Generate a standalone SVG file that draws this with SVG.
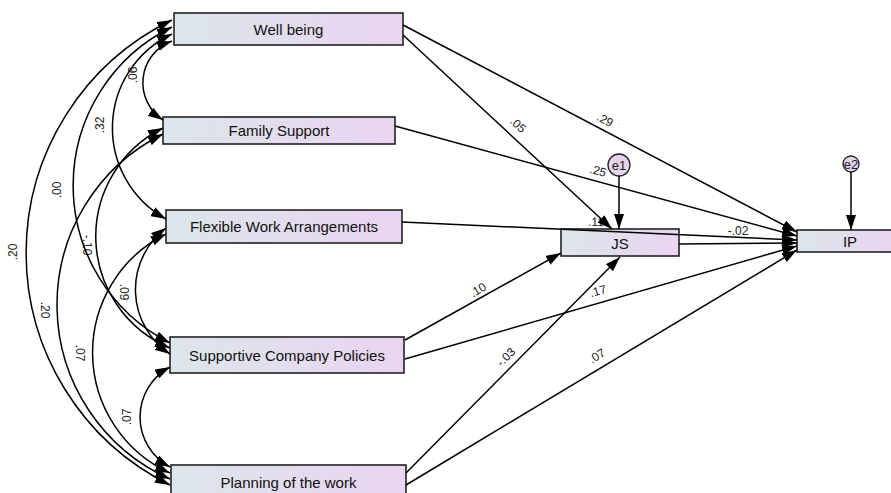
<svg xmlns="http://www.w3.org/2000/svg" width="891" height="493" viewBox="0 0 891 493">
<defs>
<linearGradient id="bg" x1="0" y1="0" x2="1" y2="0">
<stop offset="0" stop-color="#dce6ea"/>
<stop offset="1" stop-color="#ead4f2"/>
</linearGradient>
<marker id="ah" viewBox="0 0 15 10" refX="15" refY="5" markerWidth="15" markerHeight="10" markerUnits="userSpaceOnUse" orient="auto-start-reverse">
<path d="M0,0 L15,5 L0,10 z" fill="#000"/>
</marker>
<style>
.box{fill:url(#bg);stroke:#222;stroke-width:1.6}
.nt{font-family:"Liberation Sans",Arial,sans-serif;font-size:15px;fill:#111;text-anchor:middle;dominant-baseline:central}
.lb{font-family:"Liberation Sans",Arial,sans-serif;font-size:12px;fill:#222;text-anchor:middle;dominant-baseline:central}
.cv{fill:none;stroke:#000;stroke-width:1.5;marker-start:url(#ah);marker-end:url(#ah)}
.pa{fill:none;stroke:#000;stroke-width:1.5;marker-end:url(#ah)}
.err{fill:#e6d3ee;stroke:#222;stroke-width:1.3}
</style>
</defs>
<rect width="891" height="493" fill="#fff"/>

<g id="node-wb"><rect class="box" x="174" y="13" width="229" height="32"/><text class="nt" x="288.5" y="29">Well being</text></g>
<g id="node-fs"><rect class="box" x="163" y="117" width="232" height="27"/><text class="nt" x="279" y="130.5">Family Support</text></g>
<g id="node-fwa"><rect class="box" x="166" y="210" width="236" height="33"/><text class="nt" x="284" y="226.5">Flexible Work Arrangements</text></g>
<g id="node-scp"><rect class="box" x="170" y="337" width="234" height="36"/><text class="nt" x="287" y="355">Supportive Company Policies</text></g>
<g id="node-pw"><rect class="box" x="171" y="465" width="235" height="34"/><text class="nt" x="288.5" y="482">Planning of the work</text></g>
<g id="node-js"><rect class="box" x="561" y="229" width="118" height="27"/><text class="nt" x="620" y="243">JS</text></g>
<g id="node-ip"><rect class="box" x="797" y="230" width="100" height="22"/><text class="nt" x="850" y="241.5">IP</text></g>
<g id="node-e1"><circle class="err" cx="619" cy="165" r="11"/><text class="lb" x="619" y="165" style="font-size:13px">e1</text></g>
<g id="node-e2"><circle class="err" cx="851" cy="164" r="8"/><text class="lb" x="851" y="164" style="font-size:13px">e2</text></g>

<g id="labels">
<text class="lb" transform="translate(133,75) rotate(-90)">.06</text>
<text class="lb" transform="translate(100,125) rotate(-90)">.32</text>
<text class="lb" transform="translate(57,190) rotate(-90)">.00</text>
<text class="lb" transform="translate(13,252) rotate(-90)">.20</text>
<text class="lb" transform="translate(87,245) rotate(90)">-.10</text>
<text class="lb" transform="translate(45,310) rotate(90)">.20</text>
<text class="lb" transform="translate(124,292) rotate(90)">.09</text>
<text class="lb" transform="translate(80,353) rotate(90)">.07</text>
<text class="lb" transform="translate(127,417) rotate(-90)">.07</text>
<text class="lb" transform="translate(518,125) rotate(43)">.05</text>
<text class="lb" transform="translate(605,120) rotate(28)">.29</text>
<text class="lb" transform="translate(598,171) rotate(15)">.25</text>
<text class="lb" transform="translate(596,222) rotate(2)">.11</text>
<text class="lb" transform="translate(738,231)">-.02</text>
<text class="lb" transform="translate(478,290) rotate(-31)">.10</text>
<text class="lb" transform="translate(598,291) rotate(-16)">.17</text>
<text class="lb" transform="translate(506,357) rotate(-45)">-.03</text>
<text class="lb" transform="translate(597,356) rotate(-31)">.07</text>
</g>

<g id="connectors">
<path class="cv" d="M172,41 A44.5,44.5 0 0,0 163,120"/>
<path class="cv" d="M172,34 A104,104 0 0,0 166,219"/>
<path class="cv" d="M172,27 A176.5,176.5 0 0,0 170,343"/>
<path class="cv" d="M172,20 A259,259 0 0,0 170,485"/>
<path class="cv" d="M163,128 A121,121 0 0,0 170,348"/>
<path class="cv" d="M163,134 A190.7,190.7 0 0,0 170,479"/>
<path class="cv" d="M166,228 A77.3,77.3 0 0,0 170,354"/>
<path class="cv" d="M166,234 A132.4,132.4 0 0,0 170,473"/>
<path class="cv" d="M170,367 A56.7,56.7 0 0,0 170,467"/>
<path class="pa" d="M403,35 L612,229"/>
<path class="pa" d="M403,25 L797,232"/>
<path class="pa" d="M395,126 L797,236"/>
<path class="pa" d="M402,222 L797,240"/>
<path class="pa" d="M679,244 L797,243"/>
<path class="pa" d="M405,340 L561,253"/>
<path class="pa" d="M405,359 L797,246"/>
<path class="pa" d="M406,473 L620,257"/>
<path class="pa" d="M406,485 L797,250"/>
<path class="pa" d="M619,176 L619,229"/>
<path class="pa" d="M851,172 L851,230"/>
</g>
</svg>
